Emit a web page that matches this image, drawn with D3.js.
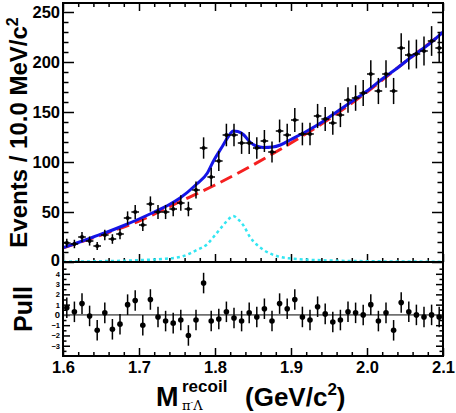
<!DOCTYPE html>
<html><head><meta charset="utf-8">
<script src="https://cdn.jsdelivr.net/npm/d3@7"></script>
<style>
body{margin:0;background:#fff}
svg{display:block}
text{font-family:"Liberation Sans",Arial,Helvetica,sans-serif;font-weight:bold;fill:#000}
</style>
</head><body>
<svg id="chart" width="456" height="413"></svg>
<script>
// ---------- data ----------
const massBins = [1.605,1.615,1.625,1.635,1.645,1.655,1.665,1.675,1.685,1.695,
                  1.705,1.715,1.725,1.735,1.745,1.755,1.765,1.775,1.785,1.795,
                  1.805,1.815,1.825,1.835,1.845,1.855,1.865,1.875,1.885,1.895,
                  1.905,1.915,1.925,1.935,1.945,1.955,1.965,1.975,1.985,1.995,
                  2.005,2.015,2.025,2.035,2.045,2.055,2.065,2.075,2.085,2.095];
const events = [19,18,25,21,16,27,23,28,44,50,
                37,58,50,50,53,59,53,72,114,85,
                101,127,127,119,119,114,121,110,131,127,
                142,128,128,146,143,139,147,162,164,169,
                188,171,188,171,214,207,208,211,221,214];
const pulls = [0.7,0.3,1.1,-0.1,-1.5,0.2,-1.4,-0.9,1.0,1.4,
               -1.0,1.5,-0.2,-0.6,-0.8,-0.5,-2.0,-0.5,3.1,-0.6,
               -0.4,0.3,-0.3,-0.6,0.2,-0.2,0.6,-0.6,1.1,0.6,
               1.5,-0.2,-0.5,0.8,0.1,-0.7,-0.5,0.3,0.2,0.0,
               1.0,-0.6,0.2,-1.5,1.2,0.3,0.0,-0.2,0.0,-0.2];
const fitMass  = [1.60,1.62,1.64,1.66,1.68,1.70,1.72,1.74,1.754,1.776,1.79,1.798,1.81,1.818,1.824,1.83,1.838,1.846,1.854,1.864,1.876,1.886,1.90,1.92,1.94,1.96,1.98,2.00,2.02,2.04,2.06,2.08,2.10];
const fitTotal = [14.3,19.5,25,30.5,36.5,43,50,57.5,64,78,89,101,116,126,131,130.5,127,120,116,114.5,115,117,122.5,130.5,139.5,150,160.5,171,183,194,206,217,230];
const bkgMass   = [1.60,1.65,1.70,1.75,1.80,1.85,1.90,1.95,2.00,2.05,2.10];
const bkgValues = [14,27,41,59,77,97,119,143,170,200,229];
const sigMass   = [1.60,1.65,1.70,1.73,1.754,1.776,1.79,1.798,1.81,1.818,1.824,1.83,1.838,1.846,1.854,1.864,1.886,1.90,1.95,2.00,2.10];
const sigValues = [0.3,0.8,1.8,3,5,12,18,25,36,43,46,43,36,25,18,12,5,3.5,1.5,0.8,0.3];
const xTicks = [1.6,1.7,1.8,1.9,2.0,2.1];
const yTicks = [0,50,100,150,200,250];
const pullTicks = [4,3,2,1,0,-1,-2,-3];
const binHalfWidth = 0.005;

// ---------- layout ----------
const L = 63, R = 443, T = 3, B1 = 262, B2 = 356;
const svg = d3.select("#chart");
const x = d3.scaleLinear().domain([1.6, 2.1]).range([L, R]);
const y = d3.scaleLinear().domain([0, 259]).range([B1, T]);
const yp = d3.scaleLinear().domain([-4, 5.15]).range([B2, B1]);

function clean(g, fs) {
  g.select(".domain").remove();
  g.selectAll("line").attr("stroke", "#000").attr("stroke-width", 1.5);
  g.attr("font-size", fs).attr("font-family", null);
  return g;
}
const minorX = d3.range(80).map(i => 1.6 + i * 0.02).filter(v => v < 2.1001 && Math.abs(v*10 - Math.round(v*10)) > 1e-6);
const minorY = d3.range(0, 260, 10).filter(v => v % 50 !== 0);
const pullMinor = d3.range(-3.5, 5.01, 1);

// ---------- top panel ticks ----------
const yl = clean(svg.append("g").attr("transform", `translate(${L},0)`)
  .call(d3.axisLeft(y).tickValues(yTicks).tickSizeInner(-11).tickSizeOuter(0).tickPadding(3)), 16.5);
yl.selectAll("text").filter(d => d === 0).attr("dy", "0.2em");
clean(svg.append("g").attr("transform", `translate(${L},0)`)
  .call(d3.axisLeft(y).tickValues(minorY).tickSizeInner(-5.5).tickSizeOuter(0).tickFormat("")), 10);
clean(svg.append("g").attr("transform", `translate(${R},0)`)
  .call(d3.axisRight(y).tickValues(yTicks).tickSizeInner(-11).tickSizeOuter(0).tickFormat("")), 10);
clean(svg.append("g").attr("transform", `translate(${R},0)`)
  .call(d3.axisRight(y).tickValues(minorY).tickSizeInner(-5.5).tickSizeOuter(0).tickFormat("")), 10);
clean(svg.append("g").attr("transform", `translate(0,${T})`)
  .call(d3.axisTop(x).tickValues(xTicks).tickSizeInner(-8).tickSizeOuter(0).tickFormat("")), 10);
clean(svg.append("g").attr("transform", `translate(0,${T})`)
  .call(d3.axisTop(x).tickValues(minorX).tickSizeInner(-4).tickSizeOuter(0).tickFormat("")), 10);
clean(svg.append("g").attr("transform", `translate(0,${B1})`)
  .call(d3.axisBottom(x).tickValues(xTicks).tickSizeInner(-8).tickSizeOuter(0).tickFormat("")), 10);
clean(svg.append("g").attr("transform", `translate(0,${B1})`)
  .call(d3.axisBottom(x).tickValues(minorX).tickSizeInner(-4).tickSizeOuter(0).tickFormat("")), 10);

// ---------- pull panel ticks ----------
const pl = clean(svg.append("g").attr("transform", `translate(${L},0)`)
  .call(d3.axisLeft(yp).tickValues(pullTicks).tickSizeInner(-7).tickSizeOuter(0).tickPadding(3)), 7.5);
pl.selectAll("text").filter(d => d === 0).attr("font-size", 9.5);
clean(svg.append("g").attr("transform", `translate(${L},0)`)
  .call(d3.axisLeft(yp).tickValues(pullMinor).tickSizeInner(-3.5).tickSizeOuter(0).tickFormat("")), 10);
clean(svg.append("g").attr("transform", `translate(${R},0)`)
  .call(d3.axisRight(yp).tickValues(pullTicks).tickSizeInner(-7).tickSizeOuter(0).tickFormat("")), 10);
clean(svg.append("g").attr("transform", `translate(${R},0)`)
  .call(d3.axisRight(yp).tickValues(pullMinor).tickSizeInner(-3.5).tickSizeOuter(0).tickFormat("")), 10);
clean(svg.append("g").attr("transform", `translate(0,${B2})`)
  .call(d3.axisBottom(x).tickValues(xTicks).tickSizeInner(-8).tickSizeOuter(0).tickPadding(5).tickFormat(d3.format(".1f"))), 16.5);
clean(svg.append("g").attr("transform", `translate(0,${B2})`)
  .call(d3.axisBottom(x).tickValues(minorX).tickSizeInner(-4).tickSizeOuter(0).tickFormat("")), 10);

// ---------- curves ----------
const lineOf = (xs, ys) => d3.line().x((d, i) => x(xs[i])).y((d, i) => y(ys[i])).curve(d3.curveMonotoneX)(ys);
svg.append("path").attr("d", lineOf(sigMass, sigValues))
  .attr("fill", "none").attr("stroke", "#33e6f2").attr("stroke-width", 2.5).attr("stroke-dasharray", "3,3");
svg.append("path").attr("d", lineOf(bkgMass, bkgValues))
  .attr("fill", "none").attr("stroke", "#f52020").attr("stroke-width", 3).attr("stroke-dasharray", "13,6");
svg.append("path").attr("d", lineOf(fitMass, fitTotal))
  .attr("fill", "none").attr("stroke", "#1414e6").attr("stroke-width", 3);

// ---------- data points ----------
const pts = svg.append("g");
massBins.forEach((m, i) => {
  const n = events[i], e = Math.sqrt(n);
  pts.append("line").attr("x1", x(m)).attr("x2", x(m)).attr("y1", y(n - e)).attr("y2", y(n + e))
    .attr("stroke", "#000").attr("stroke-width", 1.5);
  pts.append("line").attr("x1", x(m - binHalfWidth)).attr("x2", x(m + binHalfWidth)).attr("y1", y(n)).attr("y2", y(n))
    .attr("stroke", "#000").attr("stroke-width", 1.5);
  pts.append("circle").attr("cx", x(m)).attr("cy", y(n)).attr("r", 2).attr("fill", "#000");
});

// ---------- pull panel ----------
svg.append("line").attr("x1", L).attr("x2", R).attr("y1", yp(0)).attr("y2", yp(0))
  .attr("stroke", "#707070").attr("stroke-width", 1.6);
const pp = svg.append("g");
massBins.forEach((m, i) => {
  const p = pulls[i];
  pp.append("line").attr("x1", x(m)).attr("x2", x(m)).attr("y1", yp(p - 1)).attr("y2", yp(p + 1))
    .attr("stroke", "#000").attr("stroke-width", 1.5);
  pp.append("circle").attr("cx", x(m)).attr("cy", yp(p)).attr("r", 2.8).attr("fill", "#000");
});

// ---------- frames ----------
svg.append("rect").attr("x", L).attr("y", T).attr("width", R - L).attr("height", B1 - T)
  .attr("fill", "none").attr("stroke", "#000").attr("stroke-width", 2);
svg.append("rect").attr("x", L).attr("y", B1).attr("width", R - L).attr("height", B2 - B1)
  .attr("fill", "none").attr("stroke", "#000").attr("stroke-width", 2);

// ---------- titles ----------
const yt = svg.append("text").attr("transform", `translate(27,${(T + B1) / 2}) rotate(-90)`)
  .attr("text-anchor", "middle").attr("font-size", 24);
yt.append("tspan").text("Events / 10.0 MeV/c");
yt.append("tspan").attr("font-size", 16).attr("dy", "-0.55em").text("2");

svg.append("text").attr("transform", `translate(32,${(B1 + B2) / 2}) rotate(-90)`)
  .attr("text-anchor", "middle").attr("font-size", 25).text("Pull");

svg.append("text").attr("x", 156).attr("y", 406).attr("font-size", 27).text("M");
svg.append("text").attr("x", 182).attr("y", 392).attr("font-size", 17).text("recoil");
const sub = svg.append("text").attr("x", 182).attr("y", 410).attr("font-size", 13)
  .style("font-family", "'DejaVu Serif',serif").style("font-weight", "normal");
sub.append("tspan").text("π");
sub.append("tspan").attr("font-size", 8).attr("dy", -5).text("-");
sub.append("tspan").attr("dy", 5).text("Λ");
const unit = svg.append("text").attr("x", 245).attr("y", 406).attr("font-size", 26);
unit.append("tspan").text("(GeV/c");
unit.append("tspan").attr("font-size", 17).attr("dy", -11).text("2");
unit.append("tspan").attr("dy", 11).text(")");
</script>
</body></html>
